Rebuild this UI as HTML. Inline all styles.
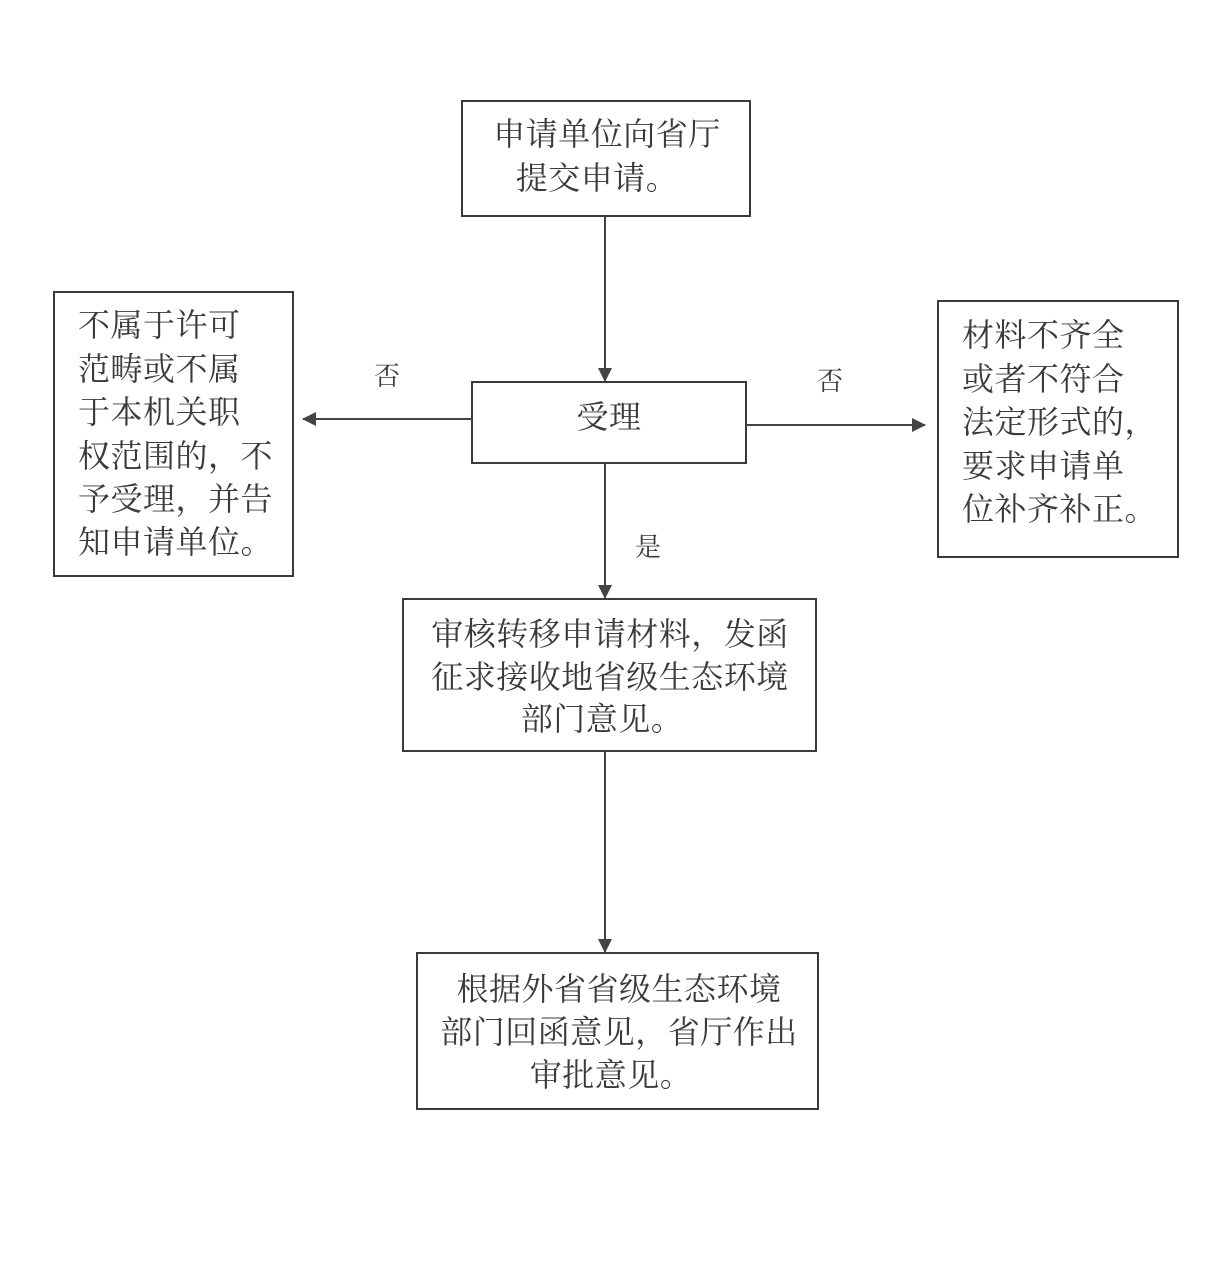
<!DOCTYPE html>
<html><head><meta charset="utf-8"><style>
html,body{margin:0;padding:0;background:#fff;}
svg{display:block;}
text{font-family:"Liberation Serif","Noto Serif CJK SC",serif;fill:#3a3a3a;}
</style></head><body>
<svg width="1231" height="1271" viewBox="0 0 1231 1271" xmlns="http://www.w3.org/2000/svg">
<defs><marker id="a" markerWidth="14" markerHeight="14" refX="13" refY="7" orient="auto" markerUnits="userSpaceOnUse"><path d="M0,0 L14,7 L0,14 z" fill="#444"/></marker></defs>
<g fill="none" stroke="#3a3a3a" stroke-width="2">
<rect x="462" y="101" width="288" height="115"/>
<rect x="472" y="382" width="274" height="81"/>
<rect x="54" y="292" width="239" height="284"/>
<rect x="938" y="301" width="240" height="256"/>
<rect x="403" y="599" width="413" height="152"/>
<rect x="417" y="953" width="401" height="156"/>
</g>
<g stroke="#444" stroke-width="2" marker-end="url(#a)">
<line x1="605" y1="216" x2="605" y2="381"/>
<line x1="472" y1="419" x2="303" y2="419"/>
<line x1="746" y1="425" x2="925" y2="425"/>
<line x1="605" y1="463" x2="605" y2="598"/>
<line x1="605" y1="751" x2="605" y2="952"/>
</g>
<g font-size="32" text-anchor="middle" letter-spacing="0.5">
<text x="607" y="145">申请单位向省厅</text>
<text x="597" y="189">提交申请。</text>
<text x="609" y="428">受理</text>
<text x="610" y="645">审核转移申请材料，发函</text>
<text x="610" y="688">征求接收地省级生态环境</text>
<text x="602" y="730">部门意见。</text>
<text x="619" y="1000">根据外省省级生态环境</text>
<text x="619" y="1043">部门回函意见，省厅作出</text>
<text x="611" y="1086">审批意见。</text>
</g>
<g font-size="32" letter-spacing="0.5">
<text x="78" y="336">不属于许可</text>
<text x="78" y="380">范畴或不属</text>
<text x="78" y="423">于本机关职</text>
<text x="78" y="467">权范围的，不</text>
<text x="78" y="510">予受理，并告</text>
<text x="78" y="553">知申请单位。</text>
<text x="962" y="346">材料不齐全</text>
<text x="962" y="390">或者不符合</text>
<text x="962" y="433">法定形式的，</text>
<text x="962" y="477">要求申请单</text>
<text x="962" y="520">位补齐补正。</text>
</g>
<g font-size="26" text-anchor="middle">
<text x="387" y="385">否</text>
<text x="830" y="390">否</text>
<text x="648" y="556">是</text>
</g>
</svg>
</body></html>
